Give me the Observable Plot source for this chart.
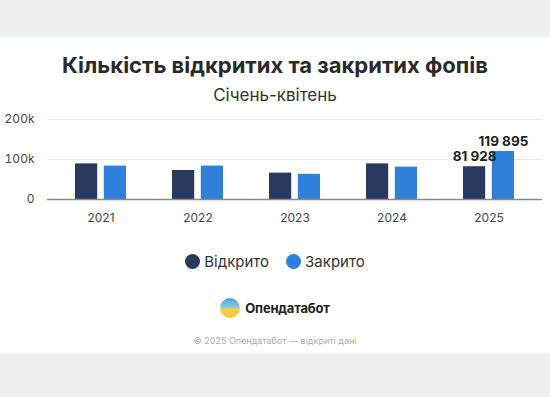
<!DOCTYPE html>
<html><head><meta charset="utf-8">
<script src="https://cdn.jsdelivr.net/npm/d3@7"></script>
<script src="https://cdn.jsdelivr.net/npm/@observablehq/plot@0.6"></script>
<style>
html,body{margin:0;padding:0;}
body{width:550px;height:397px;background:#edf0f3;position:relative;overflow:hidden;font-family:Inter,"Noto Sans",sans-serif;}
#card{position:absolute;left:0;top:37px;width:550px;height:316px;background:#fff;}
.abs{position:absolute;left:0;width:550px;text-align:center;}
#title{top:52px;font-size:22px;font-weight:700;color:#2a2a2a;}
#subtitle{top:85px;font-size:17px;color:#333;}
#chart{position:absolute;left:0;top:100px;}
#legend{top:252px;font-size:15px;color:#333;display:flex;justify-content:center;gap:17px;}
#legend span{display:inline-flex;align-items:center;}
#legend i{display:inline-block;width:15px;height:15px;border-radius:50%;margin-right:4px;}
#logo{top:298px;display:flex;justify-content:center;align-items:center;font-size:13px;font-weight:700;color:#222;letter-spacing:-0.2px;}
#logo b{display:inline-block;width:20px;height:20px;border-radius:50%;background:linear-gradient(#4aa3e0 0%,#8cc6e6 45%,#f2d24a 56%,#f5c431 100%);margin-right:5px;}
#foot{top:335px;font-size:9px;color:#aaa;}
</style></head>
<body>
<div id="card"></div>
<div id="title" class="abs">Кількість відкритих та закритих фопів</div>
<div id="subtitle" class="abs">Січень-квітень</div>
<div id="chart"></div>
<div id="legend" class="abs"></div>
<div id="logo" class="abs"><b></b>Опендатабот</div>
<div id="foot" class="abs">© 2025 Опендатабот — відкриті дані</div>
<script>
const years = ["2021","2022","2023","2024","2025"];
const opened = [89000, 72500, 66000, 89000, 81928];
const closed = [83500, 83500, 63000, 81000, 119895];
const seriesNames = ["Відкрито","Закрито"];
const seriesColors = ["#2a3a5e","#2f80d9"];
const labeledYears = ["2025"];
const yTicks = [0, 100000, 200000];

const rows = [];
years.forEach((y,i)=>{
  rows.push({year:y, series:seriesNames[0], value:opened[i]});
  rows.push({year:y, series:seriesNames[1], value:closed[i]});
});
const fmt = d3.formatLocale({decimal:",", thousands:" ", grouping:[3], currency:["",""]}).format(",d");

const chart = Plot.plot({
  width:550, height:130,
  marginTop:19, marginBottom:31, marginLeft:47, marginRight:8,
  style:{fontFamily:"Inter, 'Noto Sans', sans-serif", fontSize:"12px", background:"transparent"},
  x:{type:"band", domain:years, paddingInner:0.473, paddingOuter:0.271, label:null, tickSize:0, tickPadding:14},
  y:{domain:[0,200000], ticks:yTicks, tickFormat:d=> d===0 ? "0" : (d/1000)+"k", label:null, tickSize:0, tickPadding:13},
  color:{domain:seriesNames, range:seriesColors},
  marks:[
    Plot.gridY(yTicks, {stroke:"#e8e8e8", strokeOpacity:1}),
    Plot.barY(rows.filter(d=>d.series===seriesNames[0]), {x:"year", y:"value", fill:"series", insetRight:28.8}),
    Plot.barY(rows.filter(d=>d.series===seriesNames[1]), {x:"year", y:"value", fill:"series", insetLeft:28.8}),
    Plot.ruleY([0], {stroke:"#8a8a8a", strokeWidth:1.5}),
    Plot.text(rows.filter(d=>labeledYears.includes(d.year) && d.series===seriesNames[0]), {x:"year", y:"value", text:d=>fmt(d.value), dx:-14.4, dy:-6, lineAnchor:"bottom", fontSize:13.5, fontWeight:700, fill:"#222"}),
    Plot.text(rows.filter(d=>labeledYears.includes(d.year) && d.series===seriesNames[1]), {x:"year", y:"value", text:d=>fmt(d.value), dx:14.4, dy:-6, lineAnchor:"bottom", fontSize:13.5, fontWeight:700, fill:"#222"})
  ]
});
chart.querySelectorAll('[aria-label="x-axis tick label"], [aria-label="y-axis tick label"]').forEach(g=>g.setAttribute("fill","#444"));
document.getElementById("chart").appendChild(chart);

const leg = document.getElementById("legend");
seriesNames.forEach((n,i)=>{
  const s=document.createElement("span");
  s.innerHTML=`<i style="background:${seriesColors[i]}"></i>${n}`;
  leg.appendChild(s);
});
</script>
</body></html>
